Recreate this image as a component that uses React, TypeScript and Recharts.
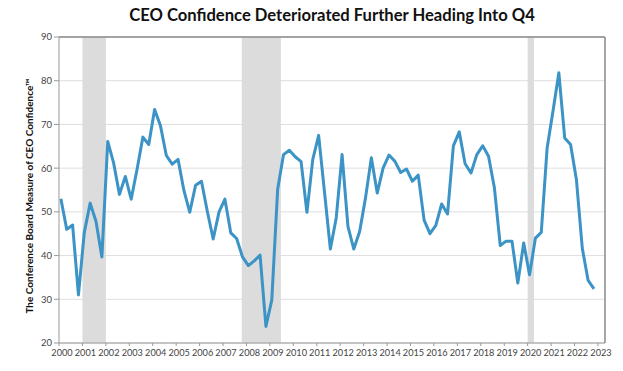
import React from 'react';
import { LineChart, Line, XAxis, YAxis, CartesianGrid, ReferenceArea, ReferenceLine, Label } from 'recharts';

const quarters: string[] = [
  '2000Q1','2000Q2','2000Q3','2000Q4','2001Q1','2001Q2','2001Q3','2001Q4',
  '2002Q1','2002Q2','2002Q3','2002Q4','2003Q1','2003Q2','2003Q3','2003Q4',
  '2004Q1','2004Q2','2004Q3','2004Q4','2005Q1','2005Q2','2005Q3','2005Q4',
  '2006Q1','2006Q2','2006Q3','2006Q4','2007Q1','2007Q2','2007Q3','2007Q4',
  '2008Q1','2008Q2','2008Q3','2008Q4','2009Q1','2009Q2','2009Q3','2009Q4',
  '2010Q1','2010Q2','2010Q3','2010Q4','2011Q1','2011Q2','2011Q3','2011Q4',
  '2012Q1','2012Q2','2012Q3','2012Q4','2013Q1','2013Q2','2013Q3','2013Q4',
  '2014Q1','2014Q2','2014Q3','2014Q4','2015Q1','2015Q2','2015Q3','2015Q4',
  '2016Q1','2016Q2','2016Q3','2016Q4','2017Q1','2017Q2','2017Q3','2017Q4',
  '2018Q1','2018Q2','2018Q3','2018Q4','2019Q1','2019Q2','2019Q3','2019Q4',
  '2020Q1','2020Q2','2020Q3','2020Q4','2021Q1','2021Q2','2021Q3','2021Q4',
  '2022Q1','2022Q2','2022Q3','2022Q4',
];

const ceoConfidence: number[] = [
  53.0, 46.0, 47.0, 31.0,
  45.3, 52.0, 47.8, 39.7,
  66.1, 61.2, 54.0, 58.1,
  52.9, 59.7, 67.1, 65.4,
  73.4, 69.7, 62.9, 60.9,
  62.0, 54.9, 49.9, 56.1,
  57.0, 50.1, 43.8, 50.0,
  52.9, 45.2, 43.9, 39.7,
  37.7, 38.8, 40.1, 23.8,
  29.8, 55.1, 63.1, 64.1,
  62.6, 61.5, 49.9, 62.0,
  67.5, 54.5, 41.5, 48.6,
  63.1, 46.7, 41.5, 45.5,
  53.2, 62.4, 54.3, 60.0,
  63.0, 61.6, 59.0, 59.8,
  57.0, 58.4, 48.1, 45.0,
  46.9, 51.8, 49.5, 65.1,
  68.3, 61.0, 58.9, 63.1,
  65.1, 62.7, 55.5, 42.3,
  43.3, 43.3, 33.7, 42.9,
  35.6, 44.0, 45.3, 64.6,
  73.0, 81.8, 66.9, 65.4,
  57.4, 41.7, 34.3, 32.4,
];

const yearTicks: number[] = [2000,2001,2002,2003,2004,2005,2006,2007,2008,2009,2010,2011,2012,2013,2014,2015,2016,2017,2018,2019,2020,2021,2022,2023];
const valueTicks: number[] = [20, 30, 40, 50, 60, 70, 80, 90];
const recessionStarts: number[] = [2001.0, 2007.8, 2020.0];
const recessionEnds: number[] = [2002.0, 2009.47, 2020.27];

const title = 'CEO Confidence Deteriorated Further Heading Into Q4';
const yTitle = 'The Conference Board Measure of CEO Confidence\u2122';

const quarterToX = (q: string) => {
  const year = parseInt(q.slice(0, 4), 10);
  const qn = parseInt(q.slice(5), 10);
  return year + 0.08 + (qn - 1) * 0.25;
};

const data = quarters.map((q, i) => ({ x: quarterToX(q), label: q, value: ceoConfidence[i] }));

const FONT = 'Lato, "Open Sans", sans-serif';
const X_MAX = 2023.3;

export default function App() {
  return (
    <div style={{ position: 'absolute', left: 0, top: 0, width: 623, height: 371, background: '#fff', fontFamily: FONT }}>
      <div style={{ position: 'absolute', left: 59, width: 546, top: 5, textAlign: 'center', fontSize: 16.6, fontWeight: 700, color: '#111', lineHeight: '20px' }}>
        {title}
      </div>
      <LineChart width={623} height={371} data={data} margin={{ top: 37, right: 18, left: 0, bottom: 0 }}>
        <CartesianGrid vertical={false} stroke="#dedede" strokeWidth={1} />
        {recessionStarts.map((s, i) => (
          <ReferenceArea key={i} x1={s} x2={recessionEnds[i]} y1={20} y2={90} fill="#dcdcdc" fillOpacity={1} stroke="none" />
        ))}
        <ReferenceLine y={90} stroke="#8a8a8a" strokeWidth={1.5} />
        <ReferenceLine x={X_MAX} stroke="#8a8a8a" strokeWidth={1.5} />
        <XAxis
          dataKey="x"
          type="number"
          domain={[2000, X_MAX]}
          ticks={yearTicks}
          interval={0}
          height={28}
          tickSize={3}
          tickMargin={3}
          stroke="#999"
          tick={{ fill: '#444', fontSize: 9.2, fontFamily: FONT, dx: 3 }}
          allowDataOverflow
        />
        <YAxis
          type="number"
          domain={[20, 90]}
          ticks={valueTicks}
          interval={0}
          width={59}
          tickSize={5}
          tickMargin={2}
          stroke="#999"
          tick={{ fill: '#444', fontSize: 9.5, fontFamily: FONT }}
        >
          <Label
            content={() => (
              <text
                x={29}
                y={196}
                transform="rotate(-90 29 196)"
                textAnchor="middle"
                dominantBaseline="central"
                fontSize={10}
                fontWeight={700}
                fontFamily={FONT}
                fill="#111"
              >
                {yTitle}
              </text>
            )}
          />
        </YAxis>
        <Line
          type="linear"
          dataKey="value"
          stroke="#3b93c6"
          strokeWidth={3}
          dot={false}
          isAnimationActive={false}
          strokeLinejoin="round"
        />
      </LineChart>
    </div>
  );
}
